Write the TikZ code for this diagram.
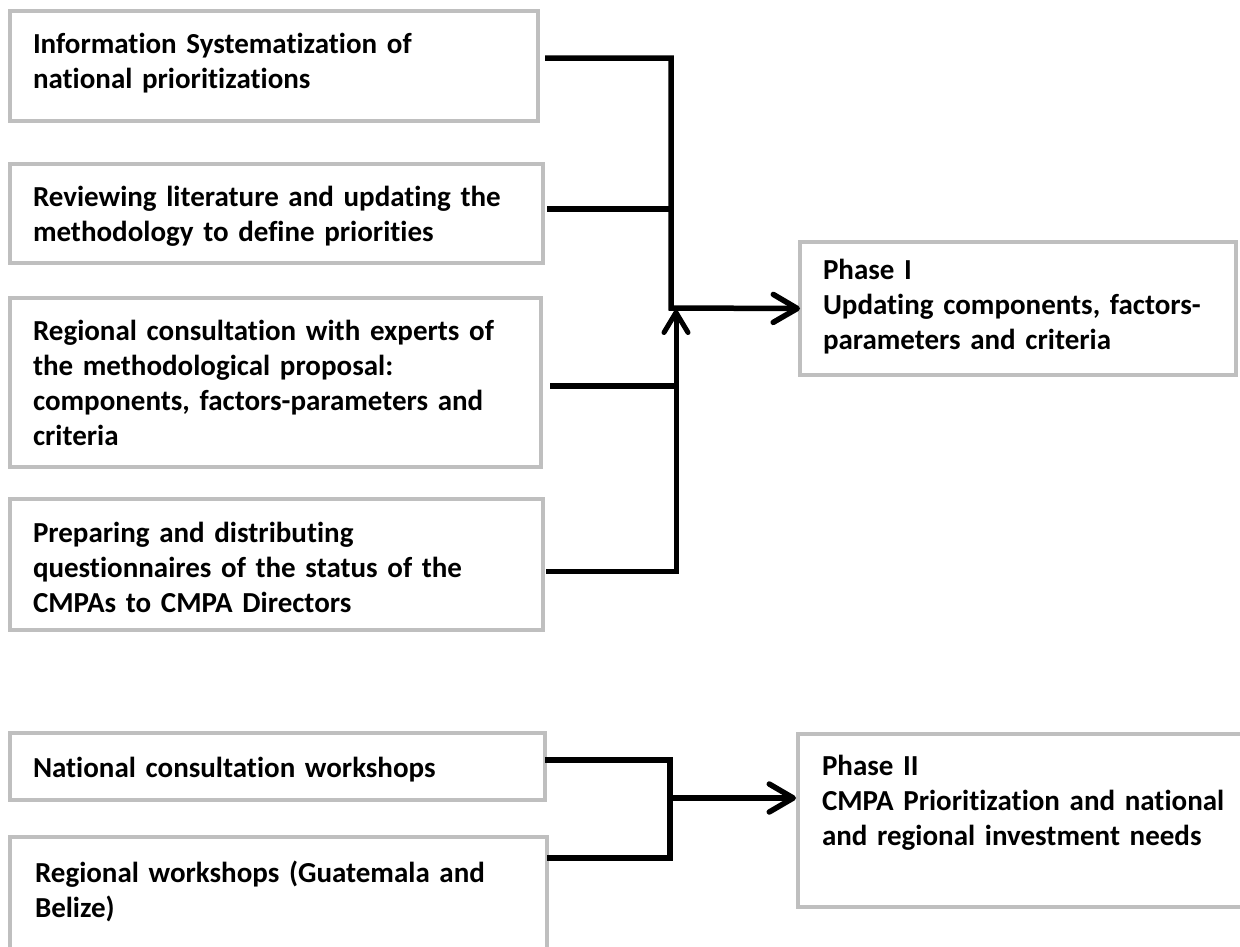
\documentclass[tikz,border=0pt]{standalone}
\usepackage{fontspec}
\setmainfont{Carlito}[Ligatures=NoCommon, WordSpace=0.88]
\usetikzlibrary{arrows.meta}
\definecolor{boxgray}{RGB}{191,191,191}
\begin{document}
\begin{tikzpicture}[x=1pt,y=-1pt,
  boxshape/.style={draw=boxgray, line width=4.5pt, fill=white, inner sep=0pt, outer sep=0pt, anchor=north west},
  boxtext/.style={anchor=north west, inner sep=0pt, outer sep=0pt, align=left, text width=520pt,
     font=\fontsize{29}{35}\selectfont\bfseries},
  conn/.style={line width=5.5pt},
  arr/.style={line width=5.5pt, -{Straight Barb[length=24pt,width=28pt,round]}},
  uparr/.style={line width=5pt, -{Straight Barb[length=20pt,width=24pt,round]}}]
\useasboundingbox (0,0) rectangle (1240,946);
\clip (0,0) rectangle (1240,946);

% boxes
\node[boxshape, minimum width=528pt, minimum height=110pt] (b1) at (10,11) {};
\node[boxshape, minimum width=533pt, minimum height=99pt]  (b2) at (10,164) {};
\node[boxshape, minimum width=531pt, minimum height=169pt] (b3) at (10,298) {};
\node[boxshape, minimum width=533pt, minimum height=131pt] (b4) at (10,499) {};
\node[boxshape, minimum width=535pt, minimum height=67pt]  (nat) at (10,733) {};
\node[boxshape, minimum width=537pt, minimum height=140pt] (reg) at (10,837) {};
\node[boxshape, minimum width=436pt, minimum height=133pt] (p1) at (800,242) {};
\node[boxshape, minimum width=460pt, minimum height=173pt] (p2) at (798,734) {};

% texts
\node[boxtext] (t1) at (33,28.5) {\strut Information Systematization of\\national prioritizations};
\node[boxtext] (t2) at (33,181.5) {\strut Reviewing literature and updating the\\methodology to define priorities};
\node[boxtext] (t3) at (33,315.5) {\strut Regional consultation with experts of\\the methodological proposal:\\components, factors-parameters and\\criteria};
\node[boxtext] (t4) at (33,517.5) {\strut Preparing and distributing\\questionnaires of the status of the\\CMPAs to CMPA Directors};
\node[boxtext] (tn) at (33,752.5) {\strut National consultation workshops};
\node[boxtext] (tr) at (35,857.5) {\strut Regional workshops (Guatemala and\\Belize)};
\node[boxtext, text width=410pt] (tp1) at (823,255) {\strut Phase I\\Updating components, factors-\\parameters and criteria};
\node[boxtext, text width=420pt] (tp2) at (822,751) {\strut Phase II\\CMPA Prioritization and national\\and regional investment needs};

% connector coordinates
\coordinate (c1) at (545,58);
\coordinate (c2) at (547,209);
\coordinate (c3) at (550,386);
\coordinate (c4) at (546,571);
\coordinate (j)  at (671,308);
\coordinate (k2) at (671,209);
\coordinate (k3) at (676,386);
\coordinate (u)  at (676,310);
\coordinate (d1) at (545,760);
\coordinate (d2) at (547,858);
\coordinate (e1) at (670,760);
\coordinate (e2) at (670,858);
\coordinate (m)  at (670,798);
\coordinate (p2in) at (796,798);

% phase I connectors
\draw[arr] (c1) -| (j) -- (p1.west);
\draw[conn] (c2) -- (k2);
\draw[conn] (c3) -- (k3);
\draw[uparr] (c4) -| (u);

% phase II connectors
\draw[conn] (d1) -- (e1) -- (e2) -- (d2);
\draw[arr] (m) -- (p2in);
\end{tikzpicture}
\end{document}
